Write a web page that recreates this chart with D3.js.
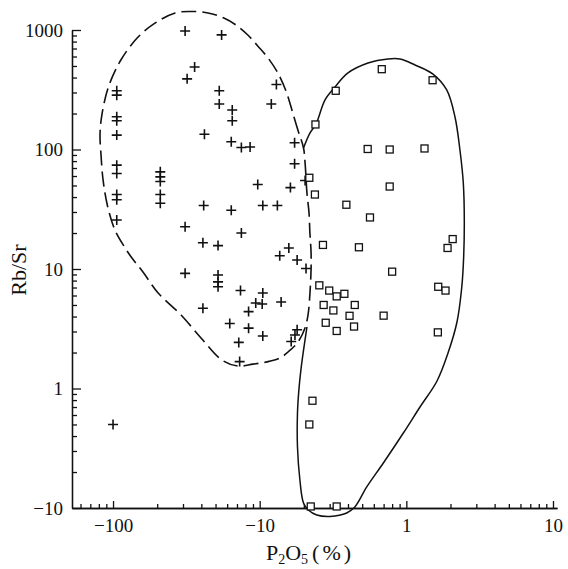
<!DOCTYPE html>
<html>
<head>
<meta charset="utf-8">
<script src="https://cdn.jsdelivr.net/npm/d3@7"></script>
<style>
  body { margin: 0; background: #fff; }
  svg { display: block; font-family: 'Liberation Serif', 'DejaVu Serif', serif; }
  .axis text { font-family: 'Liberation Serif', 'DejaVu Serif', serif; font-size: 19px; fill: #111; }
  .axis path, .axis line { stroke: #111; stroke-width: 1.3; }
</style>
</head>
<body>
<div id="chart"></div>
<script>
'use strict';
// Rb/Sr vs P2O5 (log-log), plus = one group, squares = the other
const plusPoints = [
    [0.031, 980], [0.055, 910], [0.036, 490], [0.032, 390], [0.0106, 310], [0.0106, 285],
    [0.053, 310], [0.053, 240], [0.065, 214], [0.065, 174], [0.0106, 188], [0.0106, 174],
    [0.0106, 132], [0.042, 134], [0.064, 116], [0.075, 104], [0.086, 105], [0.0106, 74],
    [0.0106, 63], [0.021, 65], [0.021, 59], [0.021, 54], [0.021, 42], [0.021, 35.5],
    [0.0106, 42], [0.0106, 38], [0.0106, 25.7], [0.0415, 34], [0.064, 31], [0.031, 22.6],
    [0.075, 20], [0.041, 16.6], [0.052, 15.7], [0.13, 350], [0.12, 240], [0.173, 114],
    [0.173, 76], [0.097, 51], [0.162, 48], [0.204, 55], [0.105, 34], [0.132, 34],
    [0.158, 15], [0.137, 12.9], [0.18, 11.9], [0.207, 10.1], [0.031, 9.2], [0.052, 8.9],
    [0.052, 7.8], [0.052, 7.1], [0.074, 6.6], [0.041, 4.7], [0.0625, 3.5], [0.072, 2.43],
    [0.073, 1.68], [0.01, 0.5], [0.105, 6.3], [0.14, 5.3], [0.094, 5.2], [0.104, 5.1],
    [0.084, 4.4], [0.084, 3.2], [0.105, 2.75], [0.18, 3.1], [0.174, 2.8], [0.164, 2.47]
]
const squarePoints = [
    [0.68, 470], [1.51, 380], [0.33, 310], [0.24, 162], [0.545, 101], [0.77, 100],
    [1.33, 102], [0.218, 58], [0.77, 49], [0.238, 42], [0.39, 34.5], [0.565, 27],
    [0.27, 15.9], [0.475, 15.2], [2.07, 17.8], [1.91, 15], [0.8, 9.5], [0.255, 7.3],
    [0.298, 6.6], [0.335, 5.9], [0.378, 6.2], [0.273, 5.0], [0.318, 4.5], [0.445, 5.0],
    [0.41, 4.06], [0.282, 3.55], [0.335, 3.03], [0.44, 3.3], [0.70, 4.07], [1.65, 7.1],
    [1.85, 6.6], [1.64, 2.95], [0.229, 0.79], [0.218, 0.5], [0.223, 0.103], [0.335, 0.103]
]
// field boundaries
const dashedBoundary = [
    [0.199, 103], [0.183, 143], [0.169, 198], [0.152, 303], [0.133, 437], [0.114, 583],
    [0.097, 735], [0.083, 908], [0.069, 1100], [0.057, 1260], [0.0444, 1390], [0.0335, 1430],
    [0.0265, 1390], [0.0193, 1140], [0.0146, 857], [0.0112, 550], [0.00925, 327], [0.00835, 187],
    [0.00815, 132], [0.00828, 90], [0.00855, 55.6], [0.00917, 33.7], [0.0103, 21.2], [0.0121, 15],
    [0.0133, 12.6], [0.016, 9.44], [0.0203, 6.3], [0.0291, 4.12], [0.0398, 2.65], [0.0553, 1.73],
    [0.071, 1.54], [0.09, 1.6], [0.112, 1.67], [0.1376, 1.8], [0.156, 2.02], [0.1825, 2.45],
    [0.2037, 3.21], [0.2135, 4.12], [0.2186, 5.5], [0.224, 9.8], [0.224, 13.9], [0.22, 20],
    [0.217, 29.4], [0.21, 43.3], [0.204, 77]
]
const solidBoundary = [
    [0.199, 103], [0.22, 137], [0.242, 163], [0.279, 260], [0.326, 333], [0.40, 437],
    [0.548, 529], [0.75, 572], [0.905, 572], [1.146, 510], [1.52, 428], [1.885, 315],
    [2.147, 187], [2.32, 99], [2.446, 52.4], [2.485, 24.3], [2.446, 10.8], [2.377, 6.67],
    [2.215, 3.6], [1.924, 1.98], [1.619, 1.156], [1.239, 0.7], [0.954, 0.424], [0.697, 0.238],
    [0.537, 0.15], [0.447, 0.1026], [0.392, 0.0908], [0.302, 0.085], [0.245, 0.0874],
    [0.2146, 0.0962], [0.199, 0.11], [0.188, 0.1715], [0.181, 0.324], [0.181, 0.624],
    [0.185, 0.97], [0.191, 1.43], [0.2, 2.18], [0.21, 3.27]
]
const xMajorTicks = [0.01, 0.1, 1, 10]
const xTickLabels = ['\u2212100', '\u221210', '1', '10']
const yMajorTicks = [0.1, 1, 10, 100, 1000]
const yTickLabels = ['\u221210', '1', '10', '100', '1000']

const width = 568
const height = 569
const margin = { top: 30, right: 11, bottom: 61, left: 72 }

const svg = d3.select('#chart').append('svg')
    .attr('width', width)
    .attr('height', height)

const x = d3.scaleLog()
    .domain([0.00525, 10.65])
    .range([margin.left, width - margin.right])
const y = d3.scaleLog()
    .domain([0.1, 1000])
    .range([height - margin.bottom, margin.top])

function minorTicks(scale) {
    return scale.ticks().filter(function(d) {
        const m = d / Math.pow(10, Math.floor(Math.log10(d) + 1e-9))
        return Math.abs(m - 1) > 1e-6
    })
}

// y axis: ticks point inward, labels on the left
svg.append('g')
    .attr('class', 'axis')
    .attr('transform', `translate(${margin.left},0)`)
    .call(d3.axisLeft(y).tickValues(minorTicks(y)).tickSize(-5).tickSizeOuter(0).tickFormat(''))
svg.append('g')
    .attr('class', 'axis')
    .attr('transform', `translate(${margin.left},0)`)
    .call(d3.axisLeft(y).tickValues(yMajorTicks).tickSize(-9).tickSizeOuter(0).tickPadding(9)
        .tickFormat(function(d, i) { return yTickLabels[i] }))

// x axis
svg.append('g')
    .attr('class', 'axis')
    .attr('transform', `translate(0,${y(0.1)})`)
    .call(d3.axisBottom(x).tickValues(minorTicks(x).filter(d => d > x.domain()[0])).tickSize(-4).tickSizeOuter(0).tickFormat(''))
svg.append('g')
    .attr('class', 'axis')
    .attr('transform', `translate(0,${y(0.1)})`)
    .call(d3.axisBottom(x).tickValues(xMajorTicks).tickSize(-7).tickSizeOuter(0).tickPadding(11)
        .tickFormat(function(d, i) { return xTickLabels[i] }))

svg.selectAll('.axis').attr('font-family', null).attr('font-size', null)
svg.selectAll('.axis .domain').attr('fill', 'none')

// boundaries
svg.append('path').datum(dashedBoundary)
    .attr('fill', 'none')
    .attr('stroke', '#111')
    .attr('stroke-width', 1.6)
    .attr('stroke-dasharray', '15,6')
    .attr('d', d3.line().x(d => x(d[0])).y(d => y(d[1])).curve(d3.curveCatmullRomClosed))
svg.append('path').datum(solidBoundary)
    .attr('fill', 'none')
    .attr('stroke', '#111')
    .attr('stroke-width', 1.5)
    .attr('d', d3.line().x(d => x(d[0])).y(d => y(d[1])).curve(d3.curveCatmullRom))

// plus markers
svg.append('g').selectAll('path')
    .data(plusPoints).enter().append('path')
    .attr('transform', d => `translate(${x(d[0])},${y(d[1])})`)
    .attr('d', 'M-5,0H5M0,-5V5')
    .attr('stroke', '#111')
    .attr('stroke-width', 1.6)

// square markers
svg.append('g').selectAll('rect')
    .data(squarePoints).enter().append('rect')
    .attr('x', d => x(d[0]) - 3.5)
    .attr('y', d => y(d[1]) - 3.5)
    .attr('width', 7)
    .attr('height', 7)
    .attr('fill', '#fff')
    .attr('stroke', '#111')
    .attr('stroke-width', 1.3)

// axis titles
const xTitle = svg.append('text')
    .attr('x', 310)
    .attr('y', 560)
    .attr('text-anchor', 'middle')
    .style('font-size', '22px')
    .attr('fill', '#111')
xTitle.append('tspan').text('P')
xTitle.append('tspan').attr('dy', 4).style('font-size', '14px').text('2')
xTitle.append('tspan').attr('dy', -4).text('O')
xTitle.append('tspan').attr('dy', 4).style('font-size', '14px').text('5')
xTitle.append('tspan').attr('dy', -4).attr('dx', 4).style('letter-spacing', '3px').text('(%)')

svg.append('text')
    .attr('transform', 'rotate(-90)')
    .attr('x', -270)
    .attr('y', 26)
    .attr('text-anchor', 'middle')
    .style('font-size', '22px')
    .attr('fill', '#111')
    .text('Rb/Sr')
</script>
</body>
</html>
